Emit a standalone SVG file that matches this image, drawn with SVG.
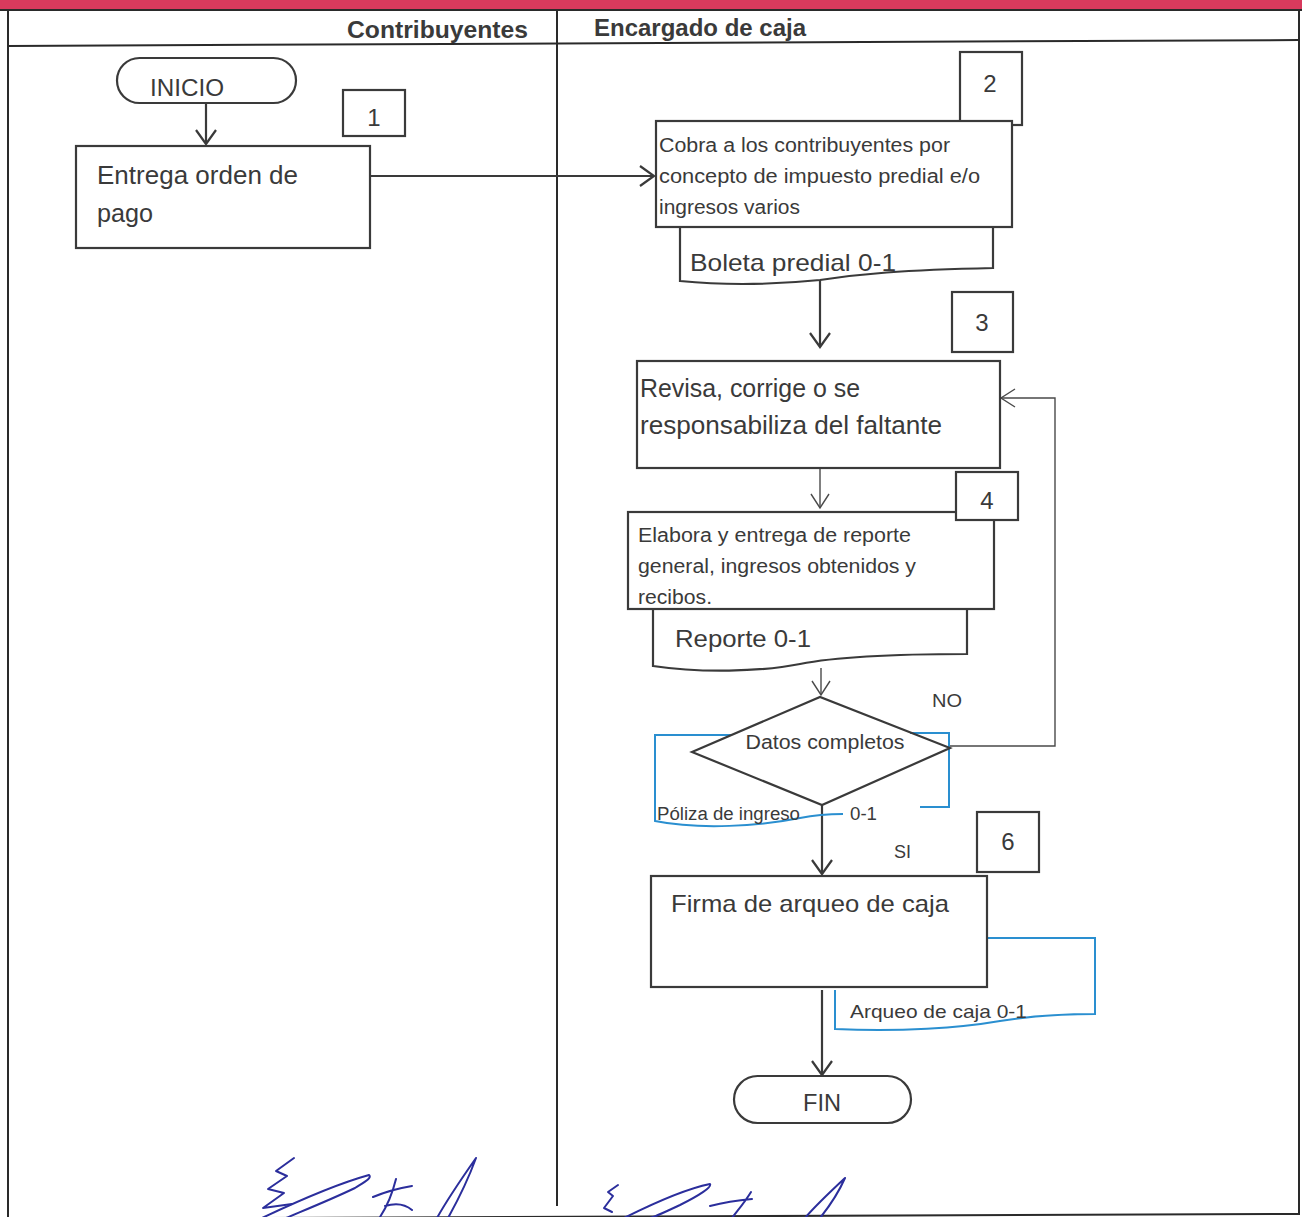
<svg xmlns="http://www.w3.org/2000/svg" width="1302" height="1217" viewBox="0 0 1302 1217">
<defs>
<style>
.frame{stroke:#2a2a2a;stroke-width:2;fill:none}
.box{fill:#fff;stroke:#3a3a3a;stroke-width:2.2}
.doc{fill:#fff;stroke:#3a3a3a;stroke-width:2.2}
.bdoc{fill:none;stroke:#2a8fd0;stroke-width:2}
.ln{fill:none;stroke:#3a3a3a;stroke-width:2.2}
.thin{fill:none;stroke:#4a4a4a;stroke-width:1.4}
.t{font-family:"Liberation Sans",Arial,sans-serif;fill:#3a3a3a}
.num{font-family:"Liberation Sans",Arial,sans-serif;fill:#3a3a3a;font-size:24px}
.h{font-family:"Liberation Sans",Arial,sans-serif;font-weight:bold;fill:#3a3a3a;font-size:24px}
.sig{fill:none;stroke:#2b2e9c;stroke-width:2;stroke-linecap:round;stroke-linejoin:round}
</style>
<marker id="ah" markerUnits="userSpaceOnUse" markerWidth="18" markerHeight="24" refX="15" refY="12" orient="auto">
<path d="M1,2 L15,12 L1,22" fill="none" stroke="#3a3a3a" stroke-width="2.2"/>
</marker>
<marker id="ahs" markerUnits="userSpaceOnUse" markerWidth="18" markerHeight="22" refX="15" refY="11" orient="auto">
<path d="M1,2 L15,11 L1,20" fill="none" stroke="#4a4a4a" stroke-width="1.4"/>
</marker>
</defs>
<rect x="0" y="0" width="1302" height="1217" fill="#fff"/>
<rect x="0" y="0" width="1302" height="10" fill="#d83a5d"/>
<g id="frame">
<line class="frame" x1="0" y1="10" x2="1302" y2="10"/>
<line class="frame" x1="8" y1="10" x2="8" y2="1217"/>
<line class="frame" x1="1299" y1="10" x2="1299" y2="1215"/>
<line class="frame" x1="8" y1="46" x2="1299" y2="40"/>
<line class="frame" x1="557" y1="10" x2="557" y2="1206"/>
<line class="frame" x1="8" y1="1219" x2="1300" y2="1214"/>
<text class="h" x="347" y="38" textLength="181" lengthAdjust="spacingAndGlyphs">Contribuyentes</text>
<text class="h" x="594" y="36" textLength="212" lengthAdjust="spacingAndGlyphs">Encargado de caja</text>
</g>
<g id="connectors">
<line class="ln" x1="206" y1="103" x2="206" y2="144" marker-end="url(#ah)"/>
<line class="ln" x1="362" y1="176" x2="654" y2="176" marker-end="url(#ah)"/>
<line class="ln" x1="820" y1="276" x2="820" y2="347" marker-end="url(#ah)"/>
<line class="thin" x1="820" y1="448" x2="820" y2="508" marker-end="url(#ahs)"/>
<line class="thin" x1="821" y1="668" x2="821" y2="695" marker-end="url(#ahs)"/>
<polyline class="thin" points="950,746 1055,746 1055,398 1001,398" marker-end="url(#ahs)"/>
<line class="ln" x1="822" y1="805" x2="822" y2="874" marker-end="url(#ah)"/>
<line class="ln" x1="822" y1="990" x2="822" y2="1075" marker-end="url(#ah)"/>
<text class="t" x="932" y="707" font-size="18" textLength="30" lengthAdjust="spacingAndGlyphs">NO</text>
<text class="t" x="894" y="858" font-size="18">SI</text>
</g>
<g id="inicio">
<rect class="box" x="117" y="58" width="179" height="45" rx="22.5"/>
<text class="t" x="187" y="96" font-size="23" text-anchor="middle" textLength="74" lengthAdjust="spacingAndGlyphs">INICIO</text>
</g>
<g id="n1">
<rect class="box" x="343" y="90" width="62" height="46"/>
<text class="num" x="374" y="126" text-anchor="middle">1</text>
</g>
<g id="entrega">
<rect class="box" x="76" y="146" width="294" height="102"/>
<text class="t" x="97" y="184" font-size="25" textLength="201" lengthAdjust="spacingAndGlyphs">Entrega orden de</text>
<text class="t" x="97" y="222" font-size="25" textLength="56" lengthAdjust="spacingAndGlyphs">pago</text>
</g>
<g id="n2">
<rect class="box" x="960" y="52" width="62" height="73"/>
<text class="num" x="990" y="92" text-anchor="middle">2</text>
</g>
<g id="boleta">
<path class="doc" d="M680,227 L680,281 C730,286 780,284 820,280 C860,274 900,270 993,268 L993,227"/>
<text class="t" x="690" y="271" font-size="24" textLength="206" lengthAdjust="spacingAndGlyphs">Boleta predial 0-1</text>
</g>
<g id="cobra">
<rect class="box" x="656" y="121" width="356" height="106"/>
<text class="t" x="659" y="152" font-size="20" textLength="291" lengthAdjust="spacingAndGlyphs">Cobra a los contribuyentes por</text>
<text class="t" x="659" y="183" font-size="20" textLength="321" lengthAdjust="spacingAndGlyphs">concepto de impuesto predial e/o</text>
<text class="t" x="659" y="214" font-size="20" textLength="141" lengthAdjust="spacingAndGlyphs">ingresos varios</text>
</g>
<g id="n3">
<rect class="box" x="952" y="292" width="61" height="60"/>
<text class="num" x="982" y="331" text-anchor="middle">3</text>
</g>
<g id="revisa">
<rect class="box" x="637" y="361" width="363" height="107"/>
<text class="t" x="640" y="397" font-size="25" textLength="220" lengthAdjust="spacingAndGlyphs">Revisa, corrige o se</text>
<text class="t" x="640" y="434" font-size="25" textLength="302" lengthAdjust="spacingAndGlyphs">responsabiliza del faltante</text>
</g>
<g id="reporte">
<path class="doc" d="M653,609 L653,666 C700,673 760,672 800,664 C840,656 900,654 967,654 L967,609"/>
<text class="t" x="675" y="647" font-size="24" textLength="136" lengthAdjust="spacingAndGlyphs">Reporte 0-1</text>
</g>
<g id="elabora">
<rect class="box" x="628" y="512" width="366" height="97"/>
<text class="t" x="638" y="542" font-size="20" textLength="273" lengthAdjust="spacingAndGlyphs">Elabora y entrega de reporte</text>
<text class="t" x="638" y="573" font-size="20" textLength="278" lengthAdjust="spacingAndGlyphs">general, ingresos obtenidos y</text>
<text class="t" x="638" y="604" font-size="20" textLength="74" lengthAdjust="spacingAndGlyphs">recibos.</text>
</g>
<g id="n4">
<rect class="box" x="956" y="472" width="62" height="48"/>
<text class="num" x="987" y="509" text-anchor="middle">4</text>
</g>
<g id="poliza">
<path class="bdoc" d="M732,735 L655,735 L655,821 C700,830 760,826 800,818 C815,815 830,814 843,814"/>
<path class="bdoc" d="M910,733 L949,733 L949,807 L920,807"/>
<text class="t" x="657" y="820" font-size="18" textLength="143" lengthAdjust="spacingAndGlyphs">Póliza de ingreso</text>
<text class="t" x="850" y="820" font-size="18" textLength="27" lengthAdjust="spacingAndGlyphs">0-1</text>
</g>
<g id="decision">
<polygon points="692,752 820,697 950,748 822,805" fill="none" stroke="#3a3a3a" stroke-width="2.2"/>
<text class="t" x="825" y="749" font-size="20" text-anchor="middle" textLength="159" lengthAdjust="spacingAndGlyphs">Datos completos</text>
</g>
<g id="n6">
<rect class="box" x="977" y="812" width="62" height="60"/>
<text class="num" x="1008" y="850" text-anchor="middle">6</text>
</g>
<g id="arqueo">
<path class="bdoc" d="M987,938 L1095,938 L1095,1014 C1060,1014 1030,1016 1000,1021 C960,1028 900,1032 835,1029 L835,990"/>
<text class="t" x="850" y="1018" font-size="19" textLength="177" lengthAdjust="spacingAndGlyphs">Arqueo de caja 0-1</text>
</g>
<g id="firma">
<rect class="box" x="651" y="876" width="336" height="111"/>
<text class="t" x="671" y="912" font-size="24" textLength="278" lengthAdjust="spacingAndGlyphs">Firma de arqueo de caja</text>
</g>
<g id="fin">
<rect class="box" x="734" y="1076" width="177" height="47" rx="23.5"/>
<text class="t" x="822" y="1111" font-size="23" text-anchor="middle" textLength="38" lengthAdjust="spacingAndGlyphs">FIN</text>
</g>
<g id="signatures">
<path class="sig" d="M294,1158 L276,1171 L287,1176 L268,1189 L284,1193 L263,1208 L292,1204"/>
<path class="sig" d="M262,1218 C300,1200 340,1183 369,1175 C372,1178 366,1181 355,1188 C330,1200 300,1212 286,1218"/>
<path class="sig" d="M373,1197 C385,1192 400,1188 412,1186 M396,1179 C392,1195 386,1208 380,1217 M385,1206 C395,1203 405,1204 412,1210"/>
<path class="sig" d="M476,1158 C462,1178 448,1198 437,1218 M476,1158 C468,1180 458,1200 448,1218"/>
<path class="sig" d="M618,1185 L608,1192 L613,1196 L604,1208 L612,1212"/>
<path class="sig" d="M624,1218 C660,1200 690,1188 710,1184 C712,1187 700,1195 680,1205 C665,1212 655,1217 650,1218"/>
<path class="sig" d="M710,1206 C725,1202 740,1200 752,1199 M751,1192 C745,1202 738,1210 732,1218"/>
<path class="sig" d="M845,1178 C830,1192 815,1206 805,1218 M845,1178 C838,1194 828,1208 820,1218"/>
</g>
</svg>
